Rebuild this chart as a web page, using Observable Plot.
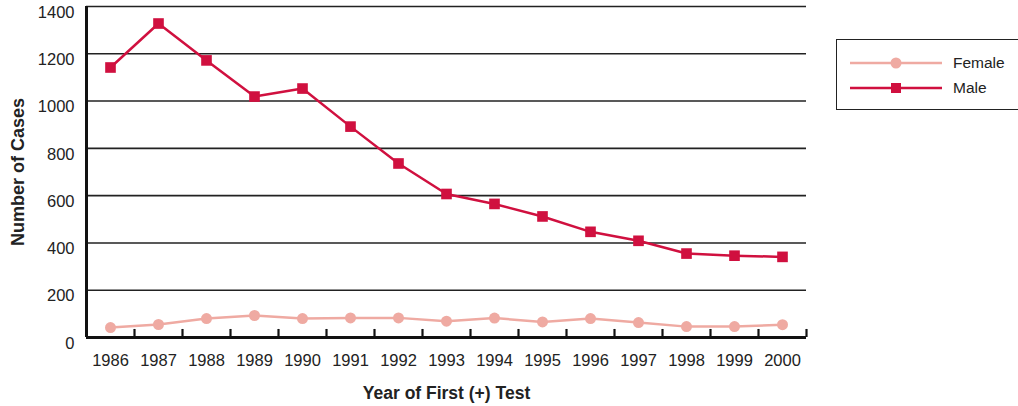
<!DOCTYPE html>
<html>
<head>
<meta charset="utf-8">
<script src="https://cdn.jsdelivr.net/npm/d3@7"></script>
<script src="https://cdn.jsdelivr.net/npm/@observablehq/plot@0.6"></script>
<style>
  body { margin: 0; background: #fff; }
  #wrap { position: relative; width: 1018px; height: 406px; overflow: hidden; font-family: "Liberation Sans", Arial, sans-serif; }
  #legend { position: absolute; left: 836px; top: 39px; width: 220px; height: 69px; border: 1.5px solid #222; background: #fff; }
  #legend .row { position: absolute; left: 13px; height: 20px; display: flex; align-items: center; }
  #legend .lab { font-size: 15.5px; color: #222; margin-left: 11px; }
</style>
</head>
<body>
<div id="wrap"></div>
<script>
const years = [1986,1987,1988,1989,1990,1991,1992,1993,1994,1995,1996,1997,1998,1999,2000];
const male = [1142,1328,1172,1019,1053,892,736,607,565,512,447,409,355,346,341];
const female = [42,55,80,93,80,83,83,69,82,66,80,63,46,46,54];
const yTicks = [0,200,400,600,800,1000,1200,1400];
const seriesNames = ["Female","Male"];
const colors = {Female: "#efaaa2", Male: "#d0103f"};

const maleData = years.map((y,i) => ({year: y, value: male[i]}));
const femaleData = years.map((y,i) => ({year: y, value: female[i]}));
const boundaries = years.map(y => y + 0.5);

const font = "'Liberation Sans', Arial, sans-serif";

const chart = Plot.plot({
  width: 1018,
  height: 406,
  marginLeft: 86,
  marginRight: 212,
  marginTop: 6,
  marginBottom: 69,
  style: {fontFamily: font, fontSize: "16.5px", color: "#222", background: "transparent", overflow: "visible"},
  x: {type: "linear", domain: [1985.5, 2000.5]},
  y: {domain: [0, 1400]},
  marks: [
    Plot.ruleY(yTicks.filter(d => d > 0), {stroke: "#222", strokeWidth: 1.6}),
    Plot.axisY({ticks: yTicks, tickSize: 0, tickPadding: 12, dy: 6, label: null, tickFormat: d => String(d)}),
    Plot.axisX({ticks: years, tickSize: 0, tickPadding: 17, label: null, tickFormat: d => String(d)}),
    Plot.ruleX(boundaries, {y1: 0, y2: 34, stroke: "#111", strokeWidth: 2.2}),
    Plot.ruleX([1985.5], {y1: 0, y2: 1400, stroke: "#111", strokeWidth: 3}),
    Plot.ruleY([0], {stroke: "#111", strokeWidth: 3}),
    Plot.line(femaleData, {x: "year", y: "value", stroke: colors.Female, strokeWidth: 2.5}),
    Plot.dot(femaleData, {x: "year", y: "value", fill: colors.Female, r: 5.5, symbol: "circle"}),
    Plot.line(maleData, {x: "year", y: "value", stroke: colors.Male, strokeWidth: 2.5}),
    Plot.dot(maleData, {x: "year", y: "value", fill: colors.Male, r: 6, symbol: "square"}),
    Plot.text(["Year of First (+) Test"], {frameAnchor: "bottom", dy: 61, fontWeight: "bold", fontSize: 17.5, fill: "#222"}),
    Plot.text(["Number of Cases"], {frameAnchor: "left", dx: -68, rotate: -90, textAnchor: "middle", fontWeight: "bold", fontSize: 18, fill: "#222"})
  ]
});
document.getElementById("wrap").appendChild(chart);

// legend
const legend = document.createElement("div");
legend.id = "legend";
seriesNames.forEach((name, i) => {
  const row = document.createElement("div");
  row.className = "row";
  row.style.top = (13 + i * 25) + "px";
  const sym = name === "Female"
    ? `<circle cx="46" cy="10" r="5.5" fill="${colors.Female}"/>`
    : `<rect x="41" y="5" width="10" height="10" fill="${colors.Male}"/>`;
  row.innerHTML = `<svg width="92" height="20"><line x1="0" x2="92" y1="10" y2="10" stroke="${colors[name]}" stroke-width="2.5"/>${sym}</svg><span class="lab">${name}</span>`;
  legend.appendChild(row);
});
document.getElementById("wrap").appendChild(legend);
</script>
</body>
</html>
